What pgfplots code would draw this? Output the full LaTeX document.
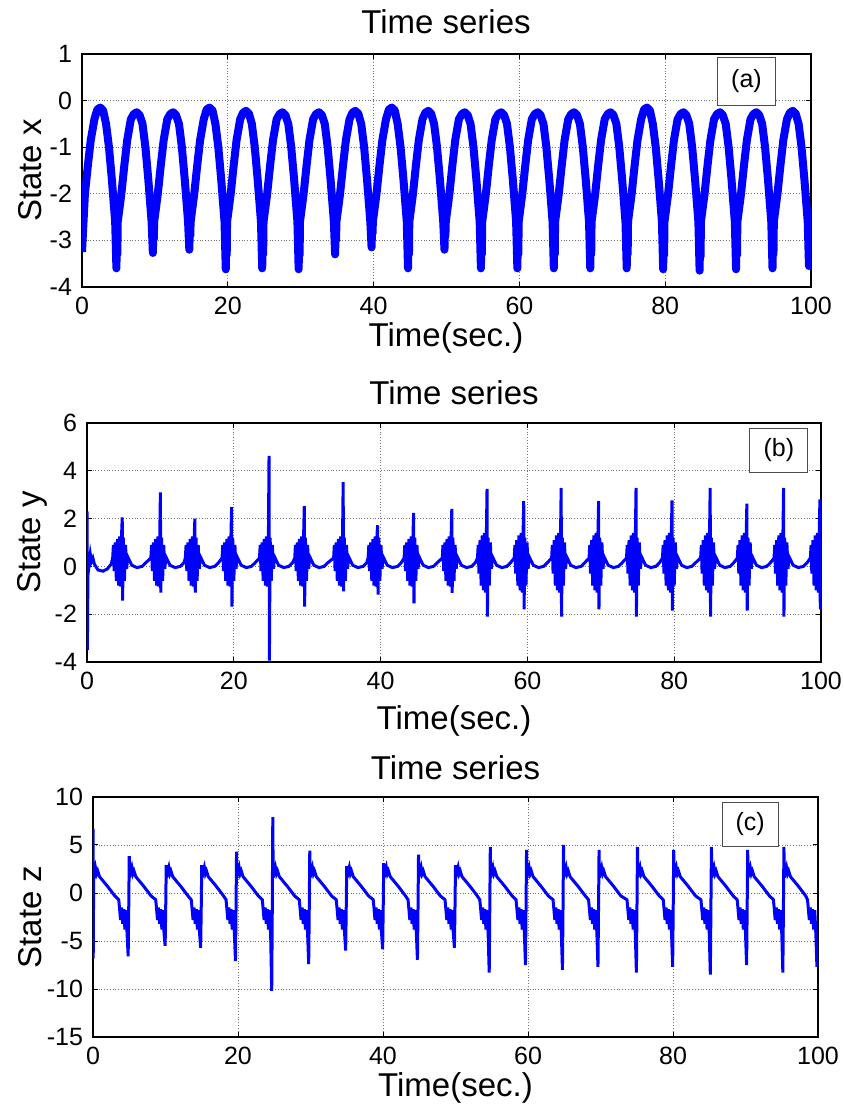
\documentclass[border=0pt]{standalone}
\usepackage{fontspec}
\setmainfont{Liberation Sans}
\usepackage{pgfplots}
\pgfplotsset{compat=1.18}
\definecolor{mblue}{RGB}{0,0,255}
\tikzset{tagbox/.style={draw=black!70, line width=0.5pt, fill=white},
  lbl/.style={font=\fontsize{16.5}{19}\selectfont, anchor=center, inner sep=0pt}}
\pgfplotsset{
  mstyle/.style={
    scale only axis, anchor=south west,
    xmin=0, xmax=100, xtick={0,20,...,100},
    grid=major, major grid style={densely dotted, black!55, line width=0.4pt},
    tick align=inside, tick pos=both, major tick length=2.5pt,
    axis line style={line width=0.8pt},
    every tick/.style={black, line width=0.5pt},
    tick label style={font=\fontsize{12.5}{14}\selectfont},
    xticklabel style={yshift=-1.5pt}, yticklabel style={xshift=-1.5pt},
    /pgf/number format/assume math mode=true,
    label style={font=\fontsize{16.5}{19}\selectfont},
    ylabel style={anchor=center},
  },
}
\begin{document}
\begin{tikzpicture}
\useasboundingbox (0,0) rectangle (422pt,554pt);
% (a) state x
\begin{axis}[mstyle, at={(41pt,410.5pt)}, width=364.5pt, height=116.5pt,
  ymin=-4, ymax=1, ytick={-4,...,1}, ylabel={State x},
  ylabel style={at={(axis description cs:-0.071,0.5)}}]
\addplot[mblue, line width=4pt, line join=round] coordinates {
(0,-3.25) (0.4,-2.0) (0.8,-1.4) (1.2,-0.85) (1.7,-0.4) (2.1,-0.19) (2.5,-0.15) (2.9,-0.21) (3.3,-0.5) (3.7,-1.0) (4.1,-1.7) (4.3,-2.1) (4.55,-2.6) (4.72,-3.6) (4.8,-2.7) (4.85,-3.3)
(4.9,-2.6) (5.4,-2.0) (5.8,-1.4) (6.2,-0.85) (6.7,-0.4) (7.1,-0.29) (7.5,-0.25) (7.9,-0.31) (8.3,-0.5) (8.7,-1.0) (9.1,-1.7) (9.3,-2.1) (9.55,-2.6) (9.72,-3.27) (9.8,-2.7) (9.85,-2.97)
(9.9,-2.6) (10.4,-2.0) (10.8,-1.4) (11.2,-0.85) (11.7,-0.4) (12.1,-0.29) (12.5,-0.25) (12.9,-0.31) (13.3,-0.5) (13.7,-1.0) (14.1,-1.7) (14.3,-2.1) (14.55,-2.6) (14.72,-3.2) (14.8,-2.7) (14.85,-2.9)
(14.9,-2.6) (15.4,-2.0) (15.8,-1.4) (16.2,-0.85) (16.7,-0.4) (17.1,-0.19) (17.5,-0.15) (17.9,-0.21) (18.3,-0.5) (18.7,-1.0) (19.1,-1.7) (19.3,-2.1) (19.55,-2.6) (19.72,-3.62) (19.8,-2.7) (19.85,-3.32)
(19.9,-2.6) (20.4,-2.0) (20.8,-1.4) (21.2,-0.85) (21.7,-0.4) (22.1,-0.26) (22.5,-0.22) (22.9,-0.28) (23.3,-0.5) (23.7,-1.0) (24.1,-1.7) (24.3,-2.1) (24.55,-2.6) (24.72,-3.6) (24.8,-2.7) (24.85,-3.3)
(24.9,-2.6) (25.4,-2.0) (25.8,-1.4) (26.2,-0.85) (26.7,-0.4) (27.1,-0.29) (27.5,-0.25) (27.9,-0.31) (28.3,-0.5) (28.7,-1.0) (29.1,-1.7) (29.3,-2.1) (29.55,-2.6) (29.72,-3.62) (29.8,-2.7) (29.85,-3.32)
(29.9,-2.6) (30.4,-2.0) (30.8,-1.4) (31.2,-0.85) (31.7,-0.4) (32.1,-0.29) (32.5,-0.25) (32.9,-0.31) (33.3,-0.5) (33.7,-1.0) (34.1,-1.7) (34.3,-2.1) (34.55,-2.6) (34.72,-3.3) (34.8,-2.7) (34.85,-3.0)
(34.9,-2.6) (35.4,-2.0) (35.8,-1.4) (36.2,-0.85) (36.7,-0.4) (37.1,-0.26) (37.5,-0.22) (37.9,-0.28) (38.3,-0.5) (38.7,-1.0) (39.1,-1.7) (39.3,-2.1) (39.55,-2.6) (39.72,-3.15) (39.8,-2.7) (39.85,-2.85)
(39.9,-2.6) (40.4,-2.0) (40.8,-1.4) (41.2,-0.85) (41.7,-0.4) (42.1,-0.19) (42.5,-0.15) (42.9,-0.21) (43.3,-0.5) (43.7,-1.0) (44.1,-1.7) (44.3,-2.1) (44.55,-2.6) (44.72,-3.6) (44.8,-2.7) (44.85,-3.3)
(44.9,-2.6) (45.4,-2.0) (45.8,-1.4) (46.2,-0.85) (46.7,-0.4) (47.1,-0.26) (47.5,-0.22) (47.9,-0.28) (48.3,-0.5) (48.7,-1.0) (49.1,-1.7) (49.3,-2.1) (49.55,-2.6) (49.72,-3.2) (49.8,-2.7) (49.85,-2.9)
(49.9,-2.6) (50.4,-2.0) (50.8,-1.4) (51.2,-0.85) (51.7,-0.4) (52.1,-0.29) (52.5,-0.25) (52.9,-0.31) (53.3,-0.5) (53.7,-1.0) (54.1,-1.7) (54.3,-2.1) (54.55,-2.6) (54.72,-3.6) (54.8,-2.7) (54.85,-3.3)
(54.9,-2.6) (55.4,-2.0) (55.8,-1.4) (56.2,-0.85) (56.7,-0.4) (57.1,-0.29) (57.5,-0.25) (57.9,-0.31) (58.3,-0.5) (58.7,-1.0) (59.1,-1.7) (59.3,-2.1) (59.55,-2.6) (59.72,-3.6) (59.8,-2.7) (59.85,-3.3)
(59.9,-2.6) (60.4,-2.0) (60.8,-1.4) (61.2,-0.85) (61.7,-0.4) (62.1,-0.29) (62.5,-0.25) (62.9,-0.31) (63.3,-0.5) (63.7,-1.0) (64.1,-1.7) (64.3,-2.1) (64.55,-2.6) (64.72,-3.6) (64.8,-2.7) (64.85,-3.3)
(64.9,-2.6) (65.4,-2.0) (65.8,-1.4) (66.2,-0.85) (66.7,-0.4) (67.1,-0.29) (67.5,-0.25) (67.9,-0.31) (68.3,-0.5) (68.7,-1.0) (69.1,-1.7) (69.3,-2.1) (69.55,-2.6) (69.72,-3.6) (69.8,-2.7) (69.85,-3.3)
(69.9,-2.6) (70.4,-2.0) (70.8,-1.4) (71.2,-0.85) (71.7,-0.4) (72.1,-0.29) (72.5,-0.25) (72.9,-0.31) (73.3,-0.5) (73.7,-1.0) (74.1,-1.7) (74.3,-2.1) (74.55,-2.6) (74.72,-3.6) (74.8,-2.7) (74.85,-3.3)
(74.9,-2.6) (75.4,-2.0) (75.8,-1.4) (76.2,-0.85) (76.7,-0.4) (77.1,-0.19) (77.5,-0.15) (77.9,-0.21) (78.3,-0.5) (78.7,-1.0) (79.1,-1.7) (79.3,-2.1) (79.55,-2.6) (79.72,-3.62) (79.8,-2.7) (79.85,-3.32)
(79.9,-2.6) (80.4,-2.0) (80.8,-1.4) (81.2,-0.85) (81.7,-0.4) (82.1,-0.29) (82.5,-0.25) (82.9,-0.31) (83.3,-0.5) (83.7,-1.0) (84.1,-1.7) (84.3,-2.1) (84.55,-2.6) (84.72,-3.65) (84.8,-2.7) (84.85,-3.35)
(84.9,-2.6) (85.4,-2.0) (85.8,-1.4) (86.2,-0.85) (86.7,-0.4) (87.1,-0.29) (87.5,-0.25) (87.9,-0.31) (88.3,-0.5) (88.7,-1.0) (89.1,-1.7) (89.3,-2.1) (89.55,-2.6) (89.72,-3.62) (89.8,-2.7) (89.85,-3.32)
(89.9,-2.6) (90.4,-2.0) (90.8,-1.4) (91.2,-0.85) (91.7,-0.4) (92.1,-0.29) (92.5,-0.25) (92.9,-0.31) (93.3,-0.5) (93.7,-1.0) (94.1,-1.7) (94.3,-2.1) (94.55,-2.6) (94.72,-3.6) (94.8,-2.7) (94.85,-3.3)
(94.9,-2.6) (95.4,-2.0) (95.8,-1.4) (96.2,-0.85) (96.7,-0.4) (97.1,-0.26) (97.5,-0.22) (97.9,-0.28) (98.3,-0.5) (98.7,-1.0) (99.1,-1.7) (99.3,-2.1) (99.55,-2.6) (99.72,-3.55) (99.8,-2.7) (99.9,-3.3) (100,-3.6)
};
\draw[tagbox] (rel axis cs:0.872,0.777) rectangle (rel axis cs:0.951,0.987);
\node[font=\fontsize{12.5}{14}\selectfont] at (rel axis cs:0.9115,0.882) {(a)};
\end{axis}
% (b) state y
\begin{axis}[mstyle, at={(43.5pt,223pt)}, width=367pt, height=119.5pt,
  ymin=-4, ymax=6, ytick={-4,-2,...,6}, ylabel={State y},
  ylabel style={at={(axis description cs:-0.075,0.5)}}]
\addplot[mblue, line width=1.5pt] coordinates {
(0,2.3) (0.05,-3.5) (0.15,0.6) (0.3,0.1) (0.45,0.5) (0.6,0.2) (0.8,0.35) (1.0,0.1) (1.5,-0.15) (2.2,-0.2) (2.8,-0.1) (3.3,0.1)
(3.5,0.35) (3.6,0.9) (3.7,-0.2) (3.85,1.0) (4.0,-0.6) (4.15,1.15) (4.3,-0.8) (4.45,1.25) (4.6,-0.85) (4.72,1.4) (4.8,2.05) (4.85,-1.43) (4.95,1.2) (5.1,-0.6) (5.25,0.9) (5.4,-0.1) (5.55,0.4) (6.1,0.05) (6.8,-0.05) (7.5,0.0) (8.0,0.15)
(8.7,0.35) (8.8,0.9) (8.9,-0.2) (9.05,1.0) (9.2,-0.6) (9.35,1.15) (9.5,-0.8) (9.65,1.25) (9.8,-0.85) (9.92,1.4) (10.0,3.1) (10.05,-1.1) (10.15,1.2) (10.3,-0.6) (10.45,0.9) (10.6,-0.1) (10.75,0.4) (11.3,0.05) (12.0,-0.05) (12.7,0.0) (13.2,0.15)
(13.4,0.35) (13.5,0.9) (13.6,-0.2) (13.75,1.0) (13.9,-0.6) (14.05,1.15) (14.2,-0.8) (14.35,1.25) (14.5,-0.85) (14.62,1.4) (14.7,2.0) (14.75,-1.1) (14.85,1.2) (15.0,-0.6) (15.15,0.9) (15.3,-0.1) (15.45,0.4) (16.0,0.05) (16.7,-0.05) (17.4,0.0) (17.9,0.15)
(18.4,0.35) (18.5,0.9) (18.6,-0.2) (18.75,1.0) (18.9,-0.6) (19.05,1.15) (19.2,-0.8) (19.35,1.25) (19.5,-0.85) (19.62,1.4) (19.7,2.48) (19.75,-1.68) (19.85,1.2) (20.0,-0.6) (20.15,0.9) (20.3,-0.1) (20.45,0.4) (21.0,0.05) (21.7,-0.05) (22.4,0.0) (22.9,0.15)
(23.5,0.35) (23.6,0.9) (23.7,-0.2) (23.85,1.0) (24.0,-0.6) (24.15,1.15) (24.3,-0.8) (24.45,1.25) (24.6,-0.85) (24.72,1.4) (24.8,4.62) (24.85,-3.94) (24.95,1.2) (25.1,-0.6) (25.25,0.9) (25.4,-0.1) (25.55,0.4) (26.1,0.05) (26.8,-0.05) (27.5,0.0) (28.0,0.15)
(28.3,0.35) (28.4,0.9) (28.5,-0.2) (28.65,1.0) (28.8,-0.6) (28.95,1.15) (29.1,-0.8) (29.25,1.25) (29.4,-0.85) (29.52,1.4) (29.6,2.52) (29.65,-1.68) (29.75,1.2) (29.9,-0.6) (30.05,0.9) (30.2,-0.1) (30.35,0.4) (30.9,0.05) (31.6,-0.05) (32.3,0.0) (32.8,0.15)
(33.6,0.35) (33.7,0.9) (33.8,-0.2) (33.95,1.0) (34.1,-0.6) (34.25,1.15) (34.4,-0.8) (34.55,1.25) (34.7,-0.85) (34.82,1.4) (34.9,3.53) (34.95,-1.04) (35.05,1.2) (35.2,-0.6) (35.35,0.9) (35.5,-0.1) (35.65,0.4) (36.2,0.05) (36.9,-0.05) (37.6,0.0) (38.1,0.15)
(38.3,0.35) (38.4,0.9) (38.5,-0.2) (38.65,1.0) (38.8,-0.6) (38.95,1.15) (39.1,-0.8) (39.25,1.25) (39.4,-0.85) (39.52,1.4) (39.6,1.72) (39.65,-1.18) (39.75,1.2) (39.9,-0.6) (40.05,0.9) (40.2,-0.1) (40.35,0.4) (40.9,0.05) (41.6,-0.05) (42.3,0.0) (42.8,0.15)
(43.2,0.35) (43.3,0.9) (43.4,-0.2) (43.55,1.0) (43.7,-0.6) (43.85,1.15) (44.0,-0.8) (44.15,1.25) (44.3,-0.85) (44.42,1.4) (44.5,2.24) (44.55,-1.55) (44.65,1.2) (44.8,-0.6) (44.95,0.9) (45.1,-0.1) (45.25,0.4) (45.8,0.05) (46.5,-0.05) (47.2,0.0) (47.7,0.15)
(48.4,0.35) (48.5,0.9) (48.6,-0.2) (48.75,1.0) (48.9,-0.6) (49.05,1.15) (49.2,-0.8) (49.35,1.25) (49.5,-0.85) (49.62,1.4) (49.7,2.41) (49.75,-1.11) (49.85,1.2) (50.0,-0.6) (50.15,0.9) (50.3,-0.1) (50.45,0.4) (51.0,0.05) (51.7,-0.05) (52.4,0.0) (52.9,0.15)
(53.2,0.35) (53.3,0.9) (53.4,-0.3) (53.55,1.1) (53.7,-0.8) (53.85,1.3) (54.0,-1.0) (54.15,1.4) (54.3,-1.1) (54.42,1.5) (54.5,3.24) (54.55,-2.1) (54.65,1.2) (54.8,-0.8) (54.95,1.0) (55.1,-0.1) (55.25,0.4) (55.8,0.05) (56.5,-0.05) (57.2,0.0) (57.7,0.15)
(58.2,0.35) (58.3,0.9) (58.4,-0.3) (58.55,1.1) (58.7,-0.8) (58.85,1.3) (59.0,-1.0) (59.15,1.4) (59.3,-1.1) (59.42,1.5) (59.5,2.73) (59.55,-1.8) (59.65,1.2) (59.8,-0.8) (59.95,1.0) (60.1,-0.1) (60.25,0.4) (60.8,0.05) (61.5,-0.05) (62.2,0.0) (62.7,0.15)
(63.3,0.35) (63.4,0.9) (63.5,-0.3) (63.65,1.1) (63.8,-0.8) (63.95,1.3) (64.1,-1.0) (64.25,1.4) (64.4,-1.1) (64.52,1.5) (64.6,3.28) (64.65,-2.1) (64.75,1.2) (64.9,-0.8) (65.05,1.0) (65.2,-0.1) (65.35,0.4) (65.9,0.05) (66.6,-0.05) (67.3,0.0) (67.8,0.15)
(68.4,0.35) (68.5,0.9) (68.6,-0.3) (68.75,1.1) (68.9,-0.8) (69.05,1.3) (69.2,-1.0) (69.35,1.4) (69.5,-1.1) (69.62,1.5) (69.7,2.73) (69.75,-1.8) (69.85,1.2) (70.0,-0.8) (70.15,1.0) (70.3,-0.1) (70.45,0.4) (71.0,0.05) (71.7,-0.05) (72.4,0.0) (72.9,0.15)
(73.5,0.35) (73.6,0.9) (73.7,-0.3) (73.85,1.1) (74.0,-0.8) (74.15,1.3) (74.3,-1.0) (74.45,1.4) (74.6,-1.1) (74.72,1.5) (74.8,3.28) (74.85,-2.1) (74.95,1.2) (75.1,-0.8) (75.25,1.0) (75.4,-0.1) (75.55,0.4) (76.1,0.05) (76.8,-0.05) (77.5,0.0) (78.0,0.15)
(78.4,0.35) (78.5,0.9) (78.6,-0.3) (78.75,1.1) (78.9,-0.8) (79.05,1.3) (79.2,-1.0) (79.35,1.4) (79.5,-1.1) (79.62,1.5) (79.7,2.76) (79.75,-1.85) (79.85,1.2) (80.0,-0.8) (80.15,1.0) (80.3,-0.1) (80.45,0.4) (81.0,0.05) (81.7,-0.05) (82.4,0.0) (82.9,0.15)
(83.6,0.35) (83.7,0.9) (83.8,-0.3) (83.95,1.1) (84.1,-0.8) (84.25,1.3) (84.4,-1.0) (84.55,1.4) (84.7,-1.1) (84.82,1.5) (84.9,3.28) (84.95,-2.1) (85.05,1.2) (85.2,-0.8) (85.35,1.0) (85.5,-0.1) (85.65,0.4) (86.2,0.05) (86.9,-0.05) (87.6,0.0) (88.1,0.15)
(88.6,0.35) (88.7,0.9) (88.8,-0.3) (88.95,1.1) (89.1,-0.8) (89.25,1.3) (89.4,-1.0) (89.55,1.4) (89.7,-1.1) (89.82,1.5) (89.9,2.63) (89.95,-1.85) (90.05,1.2) (90.2,-0.8) (90.35,1.0) (90.5,-0.1) (90.65,0.4) (91.2,0.05) (91.9,-0.05) (92.6,0.0) (93.1,0.15)
(93.6,0.35) (93.7,0.9) (93.8,-0.3) (93.95,1.1) (94.1,-0.8) (94.25,1.3) (94.4,-1.0) (94.55,1.4) (94.7,-1.1) (94.82,1.5) (94.9,3.28) (94.95,-2.1) (95.05,1.2) (95.2,-0.8) (95.35,1.0) (95.5,-0.1) (95.65,0.4) (96.2,0.05) (96.9,-0.05) (97.6,0.0) (98.1,0.15)
(98.55,0.35) (98.65,0.9) (98.75,-0.3) (98.9,1.1) (99.05,-0.8) (99.2,1.3) (99.35,-1.0) (99.5,1.4) (99.65,-1.1) (99.77,1.5) (99.85,2.8) (99.9,-1.8) (99.95,1.0) (100,-1.7)
};
\draw[tagbox] (rel axis cs:0.903,0.791) rectangle (rel axis cs:0.982,0.979);
\node[font=\fontsize{12.5}{14}\selectfont] at (rel axis cs:0.9425,0.885) {(b)};
\end{axis}
% (c) state z
\begin{axis}[mstyle, at={(46.5pt,35.5pt)}, width=362.5pt, height=120pt,
  ymin=-15, ymax=10, ytick={-15,-10,...,10}, ylabel={State z},
  ylabel style={at={(axis description cs:-0.087,0.5)}}]
\addplot[mblue, line width=1.5pt] coordinates {
(0,6.7) (0.03,-6.8) (0.1,2.4) (0.2,1.9) (0.35,2.6) (0.5,2.0) (0.65,2.3) (0.9,1.7) (2.0,0.7) (3.0,-0.3) (3.55,-0.7) (3.65,-1.5) (3.8,-2.8) (3.95,-1.5) (4.1,-3.2) (4.25,-1.7) (4.4,-3.8) (4.55,-1.8) (4.7,-4.2) (4.85,-6.6) (4.93,-1.5) (5.0,3.85)
(5.05,1.6) (5.2,2.3) (5.35,2.7) (5.5,2.0) (5.65,2.3) (5.9,1.7) (7.0,0.7) (8.0,-0.3) (8.65,-0.7) (8.75,-1.5) (8.9,-2.8) (9.05,-1.5) (9.2,-3.2) (9.35,-1.7) (9.5,-3.8) (9.65,-1.8) (9.8,-4.2) (9.95,-5.5) (10.03,-1.5) (10.1,2.9)
(10.15,1.6) (10.3,2.3) (10.45,2.7) (10.6,2.0) (10.75,2.3) (11.0,1.7) (12.1,0.7) (13.1,-0.3) (13.55,-0.7) (13.65,-1.5) (13.8,-2.8) (13.95,-1.5) (14.1,-3.2) (14.25,-1.7) (14.4,-3.8) (14.55,-1.8) (14.7,-4.2) (14.85,-5.7) (14.93,-1.5) (15.0,2.9)
(15.05,1.6) (15.2,2.3) (15.35,2.7) (15.5,2.0) (15.65,2.3) (15.9,1.7) (17.0,0.7) (18.0,-0.3) (18.35,-0.7) (18.45,-1.5) (18.6,-2.8) (18.75,-1.5) (18.9,-3.2) (19.05,-1.7) (19.2,-3.8) (19.35,-1.8) (19.5,-4.2) (19.65,-7.1) (19.73,-1.5) (19.8,4.3)
(19.85,1.6) (20.0,2.3) (20.15,2.7) (20.3,2.0) (20.45,2.3) (20.7,1.7) (21.8,0.7) (22.8,-0.3) (23.35,-0.7) (23.45,-1.5) (23.6,-2.8) (23.75,-1.5) (23.9,-3.2) (24.05,-1.7) (24.2,-3.8) (24.35,-1.8) (24.5,-4.2) (24.65,-10.2) (24.73,-1.5) (24.8,7.9)
(24.85,1.6) (25.0,2.3) (25.15,2.7) (25.3,2.0) (25.45,2.3) (25.7,1.7) (26.8,0.7) (27.8,-0.3) (28.45,-0.7) (28.55,-1.5) (28.7,-2.8) (28.85,-1.5) (29.0,-3.2) (29.15,-1.7) (29.3,-3.8) (29.45,-1.8) (29.6,-4.2) (29.75,-7.4) (29.83,-1.5) (29.9,4.4)
(29.95,1.6) (30.1,2.3) (30.25,2.7) (30.4,2.0) (30.55,2.3) (30.8,1.7) (31.9,0.7) (32.9,-0.3) (33.55,-0.7) (33.65,-1.5) (33.8,-2.8) (33.95,-1.5) (34.1,-3.2) (34.25,-1.7) (34.4,-3.8) (34.55,-1.8) (34.7,-4.2) (34.85,-6.0) (34.93,-1.5) (35.0,2.8)
(35.05,1.6) (35.2,2.3) (35.35,2.7) (35.5,2.0) (35.65,2.3) (35.9,1.7) (37.0,0.7) (38.0,-0.3) (38.65,-0.7) (38.75,-1.5) (38.9,-2.8) (39.05,-1.5) (39.2,-3.2) (39.35,-1.7) (39.5,-3.8) (39.65,-1.8) (39.8,-4.2) (39.95,-5.85) (40.03,-1.5) (40.1,3.1)
(40.15,1.6) (40.3,2.3) (40.45,2.7) (40.6,2.0) (40.75,2.3) (41.0,1.7) (42.1,0.7) (43.1,-0.3) (43.45,-0.7) (43.55,-1.5) (43.7,-2.8) (43.85,-1.5) (44.0,-3.2) (44.15,-1.7) (44.3,-3.8) (44.45,-1.8) (44.6,-4.2) (44.75,-6.95) (44.83,-1.5) (44.9,4.0)
(44.95,1.6) (45.1,2.3) (45.25,2.7) (45.4,2.0) (45.55,2.3) (45.8,1.7) (46.9,0.7) (47.9,-0.3) (48.55,-0.7) (48.65,-1.5) (48.8,-2.8) (48.95,-1.5) (49.1,-3.2) (49.25,-1.7) (49.4,-3.8) (49.55,-1.8) (49.7,-4.2) (49.85,-5.7) (49.93,-1.5) (50.0,2.9)
(50.05,1.6) (50.2,2.3) (50.35,2.7) (50.5,2.0) (50.65,2.3) (50.9,1.7) (52.0,0.7) (53.0,-0.3) (53.35,-0.7) (53.45,-1.5) (53.6,-2.8) (53.75,-1.5) (53.9,-3.2) (54.05,-1.7) (54.2,-3.8) (54.35,-1.8) (54.5,-4.2) (54.65,-8.3) (54.73,-1.5) (54.8,4.8)
(54.85,1.6) (55.0,2.3) (55.15,2.7) (55.3,2.0) (55.45,2.3) (55.7,1.7) (56.8,0.7) (57.8,-0.3) (58.35,-0.7) (58.45,-1.5) (58.6,-2.8) (58.75,-1.5) (58.9,-3.2) (59.05,-1.7) (59.2,-3.8) (59.35,-1.8) (59.5,-4.2) (59.65,-7.5) (59.73,-1.5) (59.8,4.5)
(59.85,1.6) (60.0,2.3) (60.15,2.7) (60.3,2.0) (60.45,2.3) (60.7,1.7) (61.8,0.7) (62.8,-0.3) (63.45,-0.7) (63.55,-1.5) (63.7,-2.8) (63.85,-1.5) (64.0,-3.2) (64.15,-1.7) (64.3,-3.8) (64.45,-1.8) (64.6,-4.2) (64.75,-8.0) (64.83,-1.5) (64.9,5.0)
(64.95,1.6) (65.1,2.3) (65.25,2.7) (65.4,2.0) (65.55,2.3) (65.8,1.7) (66.9,0.7) (67.9,-0.3) (68.35,-0.7) (68.45,-1.5) (68.6,-2.8) (68.75,-1.5) (68.9,-3.2) (69.05,-1.7) (69.2,-3.8) (69.35,-1.8) (69.5,-4.2) (69.65,-7.7) (69.73,-1.5) (69.8,4.5)
(69.85,1.6) (70.0,2.3) (70.15,2.7) (70.3,2.0) (70.45,2.3) (70.7,1.7) (71.8,0.7) (72.8,-0.3) (73.65,-0.7) (73.75,-1.5) (73.9,-2.8) (74.05,-1.5) (74.2,-3.2) (74.35,-1.7) (74.5,-3.8) (74.65,-1.8) (74.8,-4.2) (74.95,-8.3) (75.03,-1.5) (75.1,4.8)
(75.15,1.6) (75.3,2.3) (75.45,2.7) (75.6,2.0) (75.75,2.3) (76.0,1.7) (77.1,0.7) (78.1,-0.3) (78.65,-0.7) (78.75,-1.5) (78.9,-2.8) (79.05,-1.5) (79.2,-3.2) (79.35,-1.7) (79.5,-3.8) (79.65,-1.8) (79.8,-4.2) (79.95,-7.7) (80.03,-1.5) (80.1,4.5)
(80.15,1.6) (80.3,2.3) (80.45,2.7) (80.6,2.0) (80.75,2.3) (81.0,1.7) (82.1,0.7) (83.1,-0.3) (83.85,-0.7) (83.95,-1.5) (84.1,-2.8) (84.25,-1.5) (84.4,-3.2) (84.55,-1.7) (84.7,-3.8) (84.85,-1.8) (85.0,-4.2) (85.15,-8.5) (85.23,-1.5) (85.3,4.8)
(85.35,1.6) (85.5,2.3) (85.65,2.7) (85.8,2.0) (85.95,2.3) (86.2,1.7) (87.3,0.7) (88.3,-0.3) (88.85,-0.7) (88.95,-1.5) (89.1,-2.8) (89.25,-1.5) (89.4,-3.2) (89.55,-1.7) (89.7,-3.8) (89.85,-1.8) (90.0,-4.2) (90.15,-7.5) (90.23,-1.5) (90.3,4.5)
(90.35,1.6) (90.5,2.3) (90.65,2.7) (90.8,2.0) (90.95,2.3) (91.2,1.7) (92.3,0.7) (93.3,-0.3) (93.85,-0.7) (93.95,-1.5) (94.1,-2.8) (94.25,-1.5) (94.4,-3.2) (94.55,-1.7) (94.7,-3.8) (94.85,-1.8) (95.0,-4.2) (95.15,-8.3) (95.23,-1.5) (95.3,4.8)
(95.35,1.6) (95.5,2.3) (95.65,2.7) (95.8,2.0) (95.95,2.3) (96.2,1.7) (97.3,0.7) (98.3,-0.3) (98.55,-0.7) (98.65,-1.5) (98.8,-2.8) (98.95,-1.5) (99.1,-3.2) (99.25,-1.7) (99.4,-3.8) (99.55,-1.8) (99.7,-4.2) (99.85,-7.7) (100,-5.0)
};
\draw[tagbox] (rel axis cs:0.868,0.792) rectangle (rel axis cs:0.945,0.979);
\node[font=\fontsize{12.5}{14}\selectfont] at (rel axis cs:0.9065,0.8855) {(c)};
\end{axis}
% titles and x labels
\node[lbl] at (223pt,543pt) {Time series};
\node[lbl] at (223pt,385pt) {Time(sec.)};
\node[lbl] at (227pt,357.5pt) {Time series};
\node[lbl] at (227pt,193.5pt) {Time(sec.)};
\node[lbl] at (227.75pt,170pt) {Time series};
\node[lbl] at (227.75pt,10pt) {Time(sec.)};
\end{tikzpicture}
\end{document}
